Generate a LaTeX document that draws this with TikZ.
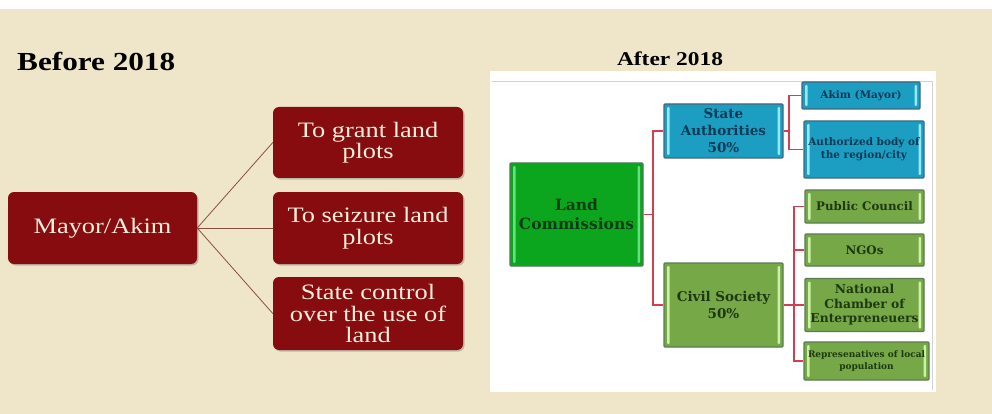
\documentclass[tikz,border=0pt]{standalone}
\usepackage{fontspec}
\setmainfont{Liberation Serif}
\newfontfamily\goudy[FakeStretch=1.2]{Liberation Serif}
\newfontfamily\slab{DejaVu Serif}
\usetikzlibrary{shadows}
\definecolor{paper}{HTML}{EFE6C9}
\definecolor{wine}{HTML}{860C10}
\definecolor{cream}{HTML}{F7EEDC}
\definecolor{brownline}{HTML}{8A4E40}
\definecolor{lcgreen}{HTML}{0BA61E}
\definecolor{lcborder}{HTML}{4E7A55}
\definecolor{lcstrip}{HTML}{62E27E}
\definecolor{lctext}{HTML}{0C3C12}
\definecolor{sblue}{HTML}{1C9EC3}
\definecolor{sborder}{HTML}{41687C}
\definecolor{sstrip}{HTML}{93E9F6}
\definecolor{stext}{HTML}{0B3A55}
\definecolor{cgreen}{HTML}{76A848}
\definecolor{cborder}{HTML}{5C7A52}
\definecolor{cstrip}{HTML}{CBF1A4}
\definecolor{ctext}{HTML}{1E3810}
\definecolor{rconn}{HTML}{D0404F}
\tikzset{
  winebox/.style={rectangle, rounded corners=6pt, fill=wine, text=cream,
    font=\goudy\fontsize{22}{21.5}\selectfont, align=center, inner sep=2pt,
    drop shadow={opacity=0.45, shadow xshift=1.5pt, shadow yshift=-1.5pt}},
  leftconn/.style={draw=brownline, line width=0.8pt},
  stripbox/.style n args={4}{rectangle, rounded corners=1pt, fill=#1, draw=#2,
    line width=1.2pt, text=#4, align=center, inner sep=1pt,
    path picture={
      \fill[#3] ([xshift=3pt,yshift=-3pt]path picture bounding box.north west)
        rectangle ([xshift=5.5pt,yshift=3pt]path picture bounding box.south west);
      \fill[#3] ([xshift=-3pt,yshift=-3pt]path picture bounding box.north east)
        rectangle ([xshift=-5.5pt,yshift=3pt]path picture bounding box.south east);
    }},
  lcbox/.style={stripbox={lcgreen}{lcborder}{lcstrip}{lctext}},
  bluebox/.style={stripbox={sblue}{sborder}{sstrip}{stext}},
  greenbox/.style={stripbox={cgreen}{cborder}{cstrip}{ctext}},
  rightconn/.style={draw=rconn, line width=1.6pt},
}
\begin{document}
\begin{tikzpicture}[x=1pt,y=-1pt]
\useasboundingbox (0,0) rectangle (992,414);
\fill[white] (0,0) rectangle (992,414);
\fill[paper] (0,9) rectangle (992,414);
% left part
\node[anchor=base west, inner sep=0pt, font=\goudy\fontsize{26}{30}\selectfont\bfseries] (before) at (17,71) {Before 2018};
\node[winebox, minimum width=189pt, minimum height=72pt] (mayor) at (102.5,228) {Mayor/Akim};
\node[winebox, minimum width=190pt, minimum height=71pt] (grant) at (368,142.5) {To grant land\\plots};
\node[winebox, minimum width=190pt, minimum height=72pt] (seize) at (368,228) {To seizure land\\plots};
\node[winebox, minimum width=190pt, minimum height=73pt] (control) at (368,313.5) {State control\\over the use of\\land};
\draw[leftconn] (mayor.east) -- (grant.west);
\draw[leftconn] (mayor.east) -- (seize.west);
\draw[leftconn] (mayor.east) -- (control.west);
% right part
\node[font=\goudy\fontsize{19.5}{22}\selectfont\bfseries] (after) at (670,59) {After 2018};
\fill[white] (490,71) rectangle (936,392);
\draw[gray!35, line width=1pt] (492,82) -- (932,82) -- (932,390);
\node[lcbox, minimum width=133pt, minimum height=103pt, font=\slab\bfseries\fontsize{15.5}{19}\selectfont] (land) at (576.5,214.5) {Land\\Commissions};
\node[bluebox, minimum width=119pt, minimum height=54pt, font=\slab\bfseries\fontsize{13.5}{17}\selectfont] (state) at (723.5,131) {State\\Authorities\\50\%};
\node[greenbox, minimum width=119pt, minimum height=84pt, font=\slab\bfseries\fontsize{13.5}{17}\selectfont] (civil) at (723.5,305) {Civil Society\\50\%};
\node[bluebox, minimum width=118pt, minimum height=27pt, font=\slab\bfseries\fontsize{10.5}{13}\selectfont] (akim) at (861,95.5) {Akim (Mayor)};
\node[bluebox, minimum width=120pt, minimum height=57pt, font=\slab\bfseries\fontsize{10.5}{13}\selectfont] (auth) at (864,149.5) {Authorized body of\\the region/city};
\node[greenbox, minimum width=119pt, minimum height=33pt, font=\slab\bfseries\fontsize{11.8}{14}\selectfont] (public) at (864.5,206.5) {Public Council};
\node[greenbox, minimum width=119pt, minimum height=32pt, font=\slab\bfseries\fontsize{11.8}{14}\selectfont] (ngos) at (864.5,250) {NGOs};
\node[greenbox, minimum width=119pt, minimum height=53pt, font=\slab\bfseries\fontsize{12.3}{14.5}\selectfont] (chamber) at (864.5,305) {National\\Chamber of\\Enterpreneuers};
\node[greenbox, minimum width=125pt, minimum height=38pt, font=\slab\bfseries\fontsize{9}{11.5}\selectfont] (repr) at (866.5,361) {Represenatives of local\\population};
\coordinate (j1) at (653,214.5);
\coordinate (j2) at (789,131);
\coordinate (j3) at (794,305);
\draw[rightconn] (land.east) -- (j1);
\draw[rightconn] (state.west) -| (j1) |- (civil.west);
\draw[rightconn] (state.east) -- (j2);
\draw[rightconn] (akim.west) -| (j2) |- (auth.west);
\draw[rightconn] (civil.east) -- (j3);
\draw[rightconn] (public.west) -| (j3) |- (repr.west);
\draw[rightconn] (ngos.west) -- (ngos.west -| j3);
\draw[rightconn] (chamber.west) -- (j3);
\end{tikzpicture}
\end{document}
